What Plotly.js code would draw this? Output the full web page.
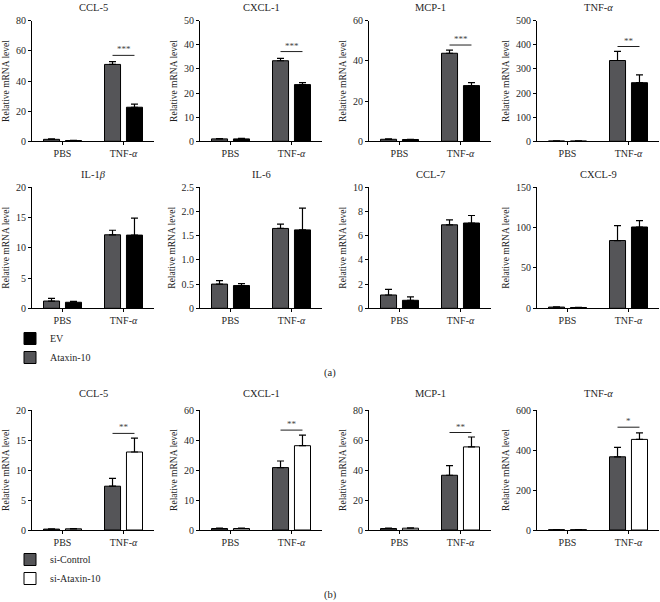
<!DOCTYPE html>
<html><head><meta charset="utf-8">
<script src="https://cdn.plot.ly/plotly-3.0.1.min.js"></script>
<style>html,body{margin:0;padding:0;background:#fff}#chart{width:660px;height:602px}</style>
</head><body><div id="chart"></div>
<script>
const categories = ["PBS", "TNF-α"];
const categoryLabels = ["PBS", "TNF-<i>α</i>"];

// Panel (a): Ataxin-10 overexpression vs EV
const aGenes = ["CCL-5", "CXCL-1", "MCP-1", "TNF-<i>α</i>", "IL-1<i>β</i>", "IL-6", "CCL-7", "CXCL-9"];
const aAtaxin10Mean = [[1.3, 51.0], [1.0, 33.4], [1.0, 43.8], [1.5, 335], [1.2, 12.15], [0.50, 1.65], [1.1, 6.9], [1.5, 84]];
const aAtaxin10Err = [[0.4, 1.9], [0.1, 1.0], [0.2, 1.6], [0.3, 38], [0.45, 0.75], [0.07, 0.09], [0.47, 0.4], [0.3, 18.5]];
const aEVMean = [[0.5, 22.6], [1.0, 23.5], [0.9, 27.7], [1.3, 243], [1.0, 12.1], [0.47, 1.62], [0.66, 7.05], [1.0, 100.8]];
const aEVErr = [[0.1, 2.0], [0.2, 0.8], [0.1, 1.5], [0.4, 32], [0.15, 2.8], [0.04, 0.45], [0.28, 0.62], [0.2, 8]];
const aYMax = [80, 50, 60, 500, 20, 2.5, 10, 150];
const aYStep = [20, 10, 20, 100, 5, 0.5, 2, 50];
const aSigText = ["***", "***", "***", "**", "", "", "", ""];
const aSigLevel = [57, 37.2, 47.9, 393, null, null, null, null];

// Panel (b): si-Control vs si-Ataxin-10
const bGenes = ["CCL-5", "CXCL-1", "MCP-1", "TNF-<i>α</i>"];
const bSiControlMean = [[0.15, 7.3], [0.5, 20.8], [1.0, 36.5], [1.5, 366]];
const bSiControlErr = [[0.05, 1.3], [0.1, 2.2], [0.2, 6.4], [0.5, 47]];
const bSiAtaxin10Mean = [[0.2, 13.0], [0.5, 28.1], [1.2, 55.4], [1.5, 453]];
const bSiAtaxin10Err = [[0.05, 2.3], [0.1, 3.5], [0.2, 6.6], [0.5, 33]];
const bYMax = [20, 40, 80, 600];
const bYStep = [5, 10, 20, 200];
const bYTickText = [null, ["0", "10", "20", "40", "60"], null, null];
const bSigText = ["**", "**", "**", "*"];
const bSigLevel = [16.1, 33.3, 65, 514];

const W = 660, H = 602;
const colX = [32, 200, 369, 537], plotW = 122;
const rowY = [[20.7, 141.3], [187.3, 308.3], [410, 530]];
const titleShift = [13, 13, 17];
const serif = "Liberation Serif, Times New Roman, serif";
const ink = "#1f1f1f";
const greyFill = "#555558";

const traces = [];
const layout = {
  width: W, height: H, margin: {l: 0, r: 0, t: 0, b: 0},
  paper_bgcolor: "#fff", plot_bgcolor: "rgba(0,0,0,0)",
  barmode: "group", bargap: 0.28, bargroupgap: 0.27,
  font: {family: serif, size: 10, color: ink},
  showlegend: true,
  legend: {x: 10 / W, y: 1 - 324 / H, xanchor: "left", yanchor: "top", bgcolor: "rgba(0,0,0,0)",
           font: {family: serif, size: 10, color: ink}, traceorder: "normal", tracegroupgap: 0},
  legend2: {x: 10 / W, y: 1 - 545 / H, xanchor: "left", yanchor: "top", bgcolor: "rgba(0,0,0,0)",
            font: {family: serif, size: 10, color: ink}, traceorder: "normal", tracegroupgap: 0},
  shapes: [], annotations: []
};

function fmt(v, step) {
  if (v === 0) return "0";
  return step < 1 ? v.toFixed(1) : String(v);
}

function addPanel(k, row, col, gene, s1, s2, ymax, step, tickText, sigText, sigLevel) {
  const n = k + 1;
  const xa = "x" + (n > 1 ? n : "");
  const ya = "y" + (n > 1 ? n : "");
  const xk = "xaxis" + (n > 1 ? n : "");
  const yk = "yaxis" + (n > 1 ? n : "");
  const x0 = colX[col], y0 = rowY[row][0], y1 = rowY[row][1];
  const tv = [];
  for (let v = 0; v <= ymax + 1e-9; v += step) tv.push(Math.round(v * 1000) / 1000);
  const tt = tickText || tv.map(v => fmt(v, step));
  layout[xk] = {
    domain: [x0 / W, (x0 + plotW) / W], anchor: ya, type: "category",
    range: [-0.5, 1.5], tickmode: "array", tickvals: categories, ticktext: categoryLabels,
    showline: true, linecolor: "#000", linewidth: 1, ticks: "outside", ticklen: 3, tickwidth: 1, tickcolor: "#000",
    showgrid: false, zeroline: false, fixedrange: true,
    tickfont: {family: serif, size: 10, color: ink}
  };
  layout[yk] = {
    domain: [1 - y1 / H, 1 - y0 / H], anchor: xa, range: [0, ymax],
    tickmode: "array", tickvals: tv, ticktext: tt,
    showline: true, linecolor: "#000", linewidth: 1, ticks: "outside", ticklen: 3, tickwidth: 1, tickcolor: "#000",
    showgrid: false, zeroline: false, fixedrange: true,
    tickfont: {family: serif, size: 10, color: ink},
    title: {text: "Relative mRNA level", font: {family: serif, size: 9.5, color: ink}, standoff: 4}
  };
  const first = (k === 0 || k === 8);
  [s1, s2].forEach(s => {
    traces.push({
      type: "bar", x: categories, y: s.mean, name: s.name, xaxis: xa, yaxis: ya,
      legend: s.legend, legendrank: s.rank, showlegend: first,
      marker: {color: s.color, line: {color: "#000", width: 1}},
      error_y: {type: "data", symmetric: false, array: s.err, arrayminus: s.err.map(() => 0),
                visible: true, color: "#000", thickness: 1.2, width: 3.5},
      hoverinfo: "skip"
    });
  });
  layout.annotations.push({
    xref: xa + " domain", yref: ya + " domain", x: 0.5, y: 1, yanchor: "middle", yshift: titleShift[row],
    text: gene, showarrow: false, font: {family: serif, size: 10.5, color: ink}
  });
  if (sigText) {
    layout.shapes.push({type: "line", xref: xa, yref: ya, x0: 0.82, x1: 1.18, y0: sigLevel, y1: sigLevel,
                        line: {color: ink, width: 1}});
    layout.annotations.push({xref: xa, yref: ya, x: 1, y: sigLevel, yanchor: "bottom", yshift: -1,
                             text: sigText, showarrow: false, font: {family: serif, size: 9, color: "#444"}});
  }
}

for (let k = 0; k < 8; k++) {
  addPanel(k, Math.floor(k / 4), k % 4, aGenes[k],
    {name: "Ataxin-10", mean: aAtaxin10Mean[k], err: aAtaxin10Err[k], color: greyFill, legend: "legend", rank: 2},
    {name: "EV", mean: aEVMean[k], err: aEVErr[k], color: "#000", legend: "legend", rank: 1},
    aYMax[k], aYStep[k], null, aSigText[k], aSigLevel[k]);
}
for (let j = 0; j < 4; j++) {
  addPanel(8 + j, 2, j, bGenes[j],
    {name: "si-Control", mean: bSiControlMean[j], err: bSiControlErr[j], color: greyFill, legend: "legend2", rank: 1},
    {name: "si-Ataxin-10", mean: bSiAtaxin10Mean[j], err: bSiAtaxin10Err[j], color: "#fff", legend: "legend2", rank: 2},
    bYMax[j], bYStep[j], bYTickText[j], bSigText[j], bSigLevel[j]);
}

layout.annotations.push({xref: "paper", yref: "paper", x: 0.5, y: 1 - 373 / H, yanchor: "middle",
  text: "(a)", showarrow: false, font: {family: serif, size: 10.5, color: ink}});
layout.annotations.push({xref: "paper", yref: "paper", x: 0.5, y: 1 - 595 / H, yanchor: "middle",
  text: "(b)", showarrow: false, font: {family: serif, size: 10.5, color: ink}});

Plotly.newPlot("chart", traces, layout, {displayModeBar: false, staticPlot: true});
</script></body></html>
